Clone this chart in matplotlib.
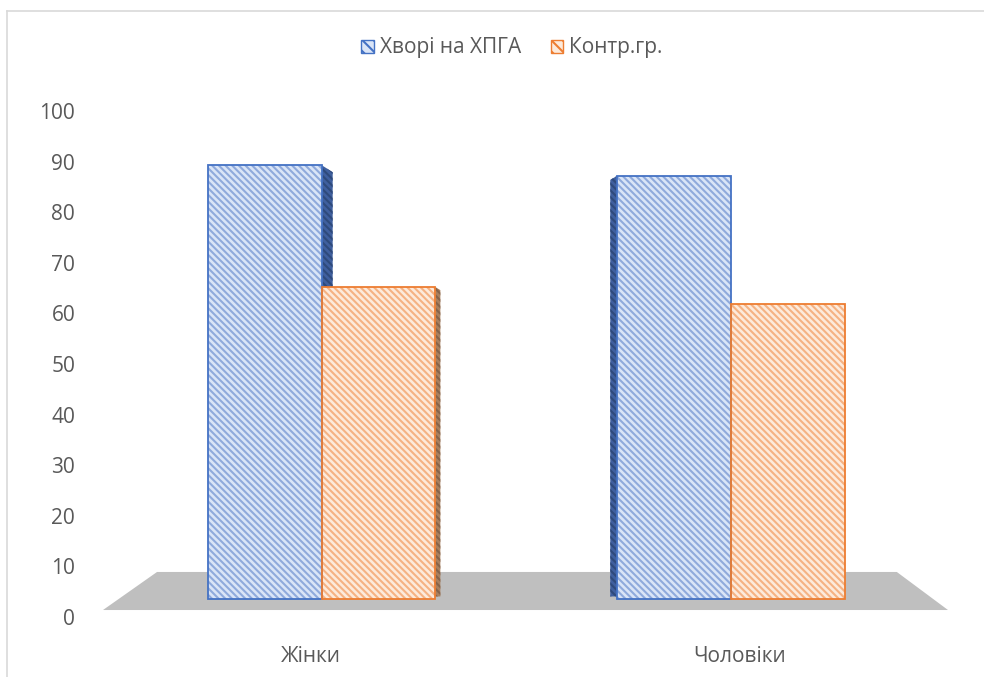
import matplotlib
matplotlib.use("Agg")
import matplotlib.pyplot as plt
from matplotlib.patches import Polygon, Patch
from matplotlib.lines import Line2D
import numpy as np

plt.rcParams['font.family'] = ['Open Sans', 'DejaVu Sans']
plt.rcParams['hatch.linewidth'] = 1.5

# Data
categories = ["Жінки", "Чоловіки"]
series_names = ["Хворі на ХПГА", "Контр.гр."]
patients = [89.3, 87.2]
control = [65.2, 61.9]
yticks = list(range(0, 101, 10))

# Colours
blue_edge, blue_fill, blue_hatch, blue_side = "#4472c4", "#dae5f7", "#8faadc", "#3f5f9e"
orange_edge, orange_fill, orange_hatch, orange_side = "#ed7d31", "#fdeadb", "#f5b283", "#a8805f"
text_color = "#595959"
HATCH = "\\" * 5

W, H = 984, 677
fig = plt.figure(figsize=(W / 100, H / 100), dpi=100)
fig.patch.set_facecolor("white")

# axes placed so the value axis runs 0..100 and the floor spans the x range
ax = fig.add_axes([103 / W, 1 - 617 / H, 845 / W, 506 / H])
ax.set_ylim(0, 100)
ax.set_xlim(-0.534, 1.530)
for s in ax.spines.values():
    s.set_visible(False)

floor_front, floor_back, base = 1.38, 8.9, 3.56

# gray floor (parallelogram)
ax.add_patch(Polygon([(-0.534, floor_front), (1.530, floor_front),
                      (1.405, floor_back), (-0.402, floor_back)],
                     closed=True, facecolor="#bfbfbf", edgecolor="none", zorder=1))

x = np.arange(len(categories))
bw = 0.278
xb = x - bw / 2
xo = x + bw / 2


def side_face(x0, top, dx, dy, color, hatch_col):
    # visible side of a 3-D column
    poly = Polygon([(x0, base + 0.5), (x0, top), (x0 + dx, top - dy), (x0 + dx, base + 0.5)],
                   closed=True, facecolor=color, edgecolor=hatch_col, hatch=HATCH,
                   linewidth=0, zorder=2)
    ax.add_patch(poly)


# side faces (left group shows the right side, right group shows the left side)
side_face(xb[0] + bw / 2, patients[0], 0.027, 1.4, blue_side, "#2e4a7c")
side_face(xo[0] + bw / 2, control[0], 0.012, 0.6, orange_side, "#86644b")
side_face(xb[1] - bw / 2, patients[1], -0.017, 0.8, blue_side, "#2e4a7c")

heights_b = [v - base for v in patients]
heights_o = [v - base for v in control]

ax.bar(xb, heights_b, bw, bottom=base, color=blue_fill, edgecolor=blue_hatch,
       hatch=HATCH, linewidth=0, zorder=3)
ax.bar(xb, heights_b, bw, bottom=base, fill=False, edgecolor=blue_edge,
       linewidth=1.3, zorder=4)
ax.bar(xo, heights_o, bw, bottom=base, color=orange_fill, edgecolor=orange_hatch,
       hatch=HATCH, linewidth=0, zorder=3)
ax.bar(xo, heights_o, bw, bottom=base, fill=False, edgecolor=orange_edge,
       linewidth=1.3, zorder=4)

ax.set_yticks(yticks)
ax.set_yticklabels([str(t) for t in yticks], fontsize=15, color=text_color)
ax.tick_params(axis="y", length=0, pad=20)
ax.set_xticks([x[0] - 0.025, x[1] + 0.02])
ax.set_xticklabels(categories, fontsize=15, color=text_color)
ax.tick_params(axis="x", length=0, pad=21)

handles = [Patch(facecolor=blue_fill, edgecolor=blue_edge, hatch="\\\\\\", linewidth=1),
           Patch(facecolor=orange_fill, edgecolor=orange_edge, hatch="\\\\\\", linewidth=1)]
fig.legend(handles, series_names, loc="center", bbox_to_anchor=(512 / W, 1 - 48 / H),
           ncol=2, frameon=False, fontsize=15, labelcolor=text_color,
           handlelength=0.6, handleheight=0.6, handletextpad=0.3, columnspacing=1.4)

# chart area border (top and left edges)
fig.add_artist(Line2D([7 / W, 1], [1 - 11 / H, 1 - 11 / H], color="#d9d9d9", lw=1.2))
fig.add_artist(Line2D([7 / W, 7 / W], [0, 1 - 11 / H], color="#d9d9d9", lw=1.2))

fig.savefig("out.png", dpi=100, facecolor="white")
